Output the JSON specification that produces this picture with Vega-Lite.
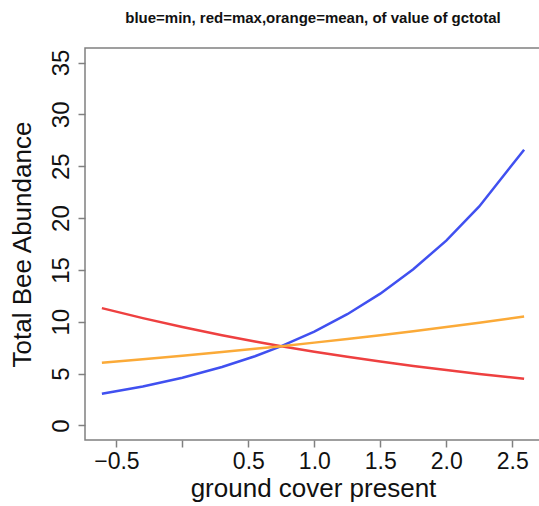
{
  "$schema": "https://vega.github.io/schema/vega-lite/v6.json",
  "autosize": {"type": "none"},
  "padding": {"left": 85, "top": 48, "right": 0, "bottom": 66},
  "width": 456,
  "height": 392,
  "background": "white",
  "title": {
    "text": "blue=min, red=max,orange=mean, of value of gctotal",
    "font": "Liberation Sans",
    "fontSize": 15,
    "fontWeight": "bold",
    "color": "#111111",
    "anchor": "middle",
    "offset": 22
  },
  "config": {
    "view": {"stroke": "#808080", "strokeWidth": 1.5},
    "font": "Liberation Sans"
  },
  "data": {
    "values": [
      {"x": -0.61, "y": 3.05, "s": "min"},
      {"x": -0.3, "y": 3.76, "s": "min"},
      {"x": 0.0, "y": 4.60, "s": "min"},
      {"x": 0.3, "y": 5.64, "s": "min"},
      {"x": 0.55, "y": 6.68, "s": "min"},
      {"x": 0.75, "y": 7.65, "s": "min"},
      {"x": 1.0, "y": 9.06, "s": "min"},
      {"x": 1.25, "y": 10.73, "s": "min"},
      {"x": 1.5, "y": 12.71, "s": "min"},
      {"x": 1.75, "y": 15.06, "s": "min"},
      {"x": 2.0, "y": 17.83, "s": "min"},
      {"x": 2.25, "y": 21.12, "s": "min"},
      {"x": 2.59, "y": 26.59, "s": "min"},
      {"x": -0.61, "y": 11.32, "s": "max"},
      {"x": -0.3, "y": 10.35, "s": "max"},
      {"x": 0.0, "y": 9.49, "s": "max"},
      {"x": 0.3, "y": 8.71, "s": "max"},
      {"x": 0.55, "y": 8.10, "s": "max"},
      {"x": 0.75, "y": 7.65, "s": "max"},
      {"x": 1.0, "y": 7.12, "s": "max"},
      {"x": 1.25, "y": 6.62, "s": "max"},
      {"x": 1.5, "y": 6.16, "s": "max"},
      {"x": 1.75, "y": 5.74, "s": "max"},
      {"x": 2.0, "y": 5.34, "s": "max"},
      {"x": 2.25, "y": 4.97, "s": "max"},
      {"x": 2.59, "y": 4.50, "s": "max"},
      {"x": -0.61, "y": 6.05, "s": "mean"},
      {"x": -0.3, "y": 6.39, "s": "mean"},
      {"x": 0.0, "y": 6.72, "s": "mean"},
      {"x": 0.3, "y": 7.08, "s": "mean"},
      {"x": 0.55, "y": 7.39, "s": "mean"},
      {"x": 0.75, "y": 7.65, "s": "mean"},
      {"x": 1.0, "y": 7.99, "s": "mean"},
      {"x": 1.25, "y": 8.34, "s": "mean"},
      {"x": 1.5, "y": 8.70, "s": "mean"},
      {"x": 1.75, "y": 9.09, "s": "mean"},
      {"x": 2.0, "y": 9.49, "s": "mean"},
      {"x": 2.25, "y": 9.90, "s": "mean"},
      {"x": 2.59, "y": 10.50, "s": "mean"}
    ]
  },
  "mark": {"type": "line", "strokeWidth": 2.5, "clip": true},
  "encoding": {
    "x": {
      "field": "x",
      "type": "quantitative",
      "scale": {"domain": [-0.738, 2.718], "nice": false, "zero": false},
      "axis": {
        "title": "ground cover present",
        "values": [-0.5, 0, 0.5, 1.0, 1.5, 2.0, 2.5],
        "labelExpr": "datum.value == 0 ? '' : format(datum.value, '.1f')",
        "grid": false,
        "domain": false,
        "tickSize": 7,
        "tickColor": "#808080",
        "tickWidth": 1.5,
        "labelFontSize": 23,
        "labelColor": "#111111",
        "labelPadding": 3,
        "labelFlush": false,
        "labelOverlap": false,
        "titleFontSize": 26,
        "titleFontWeight": "normal",
        "titleColor": "#111111",
        "titlePadding": 2
      }
    },
    "y": {
      "field": "y",
      "type": "quantitative",
      "scale": {"domain": [-1.4, 36.4], "nice": false, "zero": false},
      "axis": {
        "title": "Total Bee Abundance",
        "values": [0, 5, 10, 15, 20, 25, 30, 35],
        "grid": false,
        "domain": false,
        "tickSize": 7,
        "tickColor": "#808080",
        "tickWidth": 1.5,
        "labelAngle": -90,
        "labelAlign": "center",
        "labelBaseline": "bottom",
        "labelFontSize": 24,
        "labelColor": "#111111",
        "labelPadding": 5,
        "labelFlush": false,
        "labelOverlap": false,
        "titleFontSize": 26,
        "titleFontWeight": "normal",
        "titleColor": "#111111",
        "titlePadding": 14
      }
    },
    "color": {
      "field": "s",
      "type": "nominal",
      "scale": {"domain": ["min", "max", "mean"], "range": ["#4050f0", "#ee4040", "#fbaa38"]},
      "legend": null
    }
  }
}
